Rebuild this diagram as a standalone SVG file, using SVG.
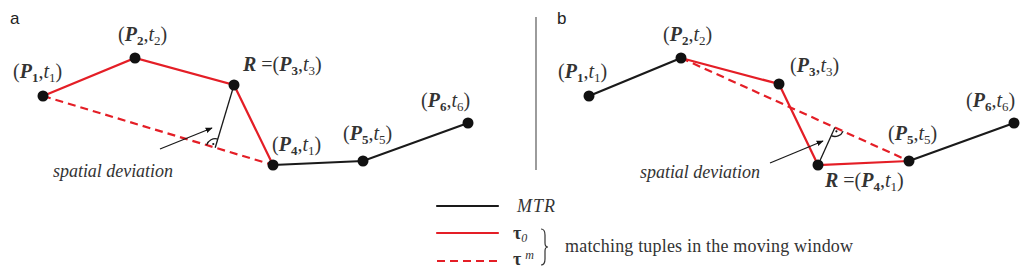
<svg xmlns="http://www.w3.org/2000/svg" width="1024" height="278" viewBox="0 0 1024 278">
<style>
.bg{fill:#fff}
.r{stroke:#e41e26;stroke-width:2.2;fill:none;stroke-linecap:round}
.rd{stroke:#e41e26;stroke-width:2.2;fill:none;stroke-dasharray:8,5}
.k{stroke:#1a1a1a;stroke-width:2.2;fill:none;stroke-linecap:round}
.thin{stroke:#1a1a1a;stroke-width:1.3;fill:none}
.dot{fill:#111}
.m{font-family:"Liberation Serif",serif;font-size:20px;fill:#333}
.bp{font-weight:bold;font-style:italic}
.sb{font-weight:bold;font-size:13px}
.it{font-style:italic}
.sub{font-size:13px}
.t{font-family:"Liberation Serif",serif;font-style:italic;font-size:18px;fill:#333}
.lab{font-family:"Liberation Sans",Arial,sans-serif;font-size:17px;fill:#222}
.lg{font-family:"Liberation Serif",serif;font-size:18px;fill:#333}
</style>
<defs>
<marker id="ah" viewBox="0 0 10 10" refX="9" refY="5" markerWidth="7" markerHeight="7" orient="auto" markerUnits="userSpaceOnUse">
<path d="M0,1 L10,5 L0,9 Z" fill="#111"/>
</marker>
</defs>
<rect class="bg" x="0" y="0" width="1024" height="278"/>
<text class="lab" x="10" y="24">a</text>
<text class="lab" x="557" y="24">b</text>
<line x1="536" y1="17" x2="536" y2="170" stroke="#666" stroke-width="1.3"/>

<g id="connectors">
<!-- panel a -->
<polyline class="r" points="43,96 135,58 234,85 273,165"/>
<line class="rd" x1="43" y1="96" x2="273" y2="165"/>
<polyline class="k" points="273,165 363,161 468,123"/>
<line class="thin" x1="234" y1="85" x2="215.2" y2="147.7"/>
<path class="thin" d="M206.6,145.1 A9,9 0 0 1 217.9,139.1"/>
<circle cx="213.3" cy="144" r="1.1" fill="#111"/>
<line class="thin" x1="160" y1="149" x2="212" y2="128" marker-end="url(#ah)"/>
<!-- panel b -->
<line class="k" x1="589" y1="96" x2="681" y2="58"/>
<polyline class="r" points="681,58 779,84 818,165 909,161"/>
<line class="rd" x1="681" y1="58" x2="909" y2="161"/>
<line class="k" x1="909" y1="161" x2="1014" y2="123"/>
<line class="thin" x1="818" y1="165" x2="834.9" y2="127.5"/>
<path class="thin" d="M843.1,131.2 A9,9 0 0 1 831.2,135.7"/>
<circle cx="836.4" cy="131.3" r="1.1" fill="#111"/>
<line class="thin" x1="770" y1="163" x2="823" y2="141" marker-end="url(#ah)"/>
</g>

<g id="a-p1"><circle class="dot" cx="43" cy="96" r="5.5"/>
<text class="m" x="13" y="78">(<tspan class="bp">P</tspan><tspan class="sb" dy="4">1</tspan><tspan dy="-4">,</tspan><tspan class="it">t</tspan><tspan class="sub" dy="4">1</tspan><tspan dy="-4">)</tspan></text></g>
<g id="a-p2"><circle class="dot" cx="135" cy="58" r="5.5"/>
<text class="m" x="118" y="41">(<tspan class="bp">P</tspan><tspan class="sb" dy="4">2</tspan><tspan dy="-4">,</tspan><tspan class="it">t</tspan><tspan class="sub" dy="4">2</tspan><tspan dy="-4">)</tspan></text></g>
<g id="a-p3"><circle class="dot" cx="234" cy="85" r="5.5"/>
<text class="m" x="243" y="71"><tspan class="bp">R</tspan> =(<tspan class="bp">P</tspan><tspan class="sb" dy="4">3</tspan><tspan dy="-4">,</tspan><tspan class="it">t</tspan><tspan class="sub" dy="4">3</tspan><tspan dy="-4">)</tspan></text></g>
<g id="a-p4"><circle class="dot" cx="273" cy="165" r="5.5"/>
<text class="m" x="272" y="151">(<tspan class="bp">P</tspan><tspan class="sb" dy="4">4</tspan><tspan dy="-4">,</tspan><tspan class="it">t</tspan><tspan class="sub" dy="4">1</tspan><tspan dy="-4">)</tspan></text></g>
<g id="a-p5"><circle class="dot" cx="363" cy="161" r="5.5"/>
<text class="m" x="343" y="140">(<tspan class="bp">P</tspan><tspan class="sb" dy="4">5</tspan><tspan dy="-4">,</tspan><tspan class="it">t</tspan><tspan class="sub" dy="4">5</tspan><tspan dy="-4">)</tspan></text></g>
<g id="a-p6"><circle class="dot" cx="468" cy="123" r="5.5"/>
<text class="m" x="421" y="107">(<tspan class="bp">P</tspan><tspan class="sb" dy="4">6</tspan><tspan dy="-4">,</tspan><tspan class="it">t</tspan><tspan class="sub" dy="4">6</tspan><tspan dy="-4">)</tspan></text></g>
<g id="a-sd"><text class="t" x="53" y="177" textLength="120">spatial deviation</text></g>

<g id="b-p1"><circle class="dot" cx="589" cy="96" r="5.5"/>
<text class="m" x="558" y="78">(<tspan class="bp">P</tspan><tspan class="sb" dy="4">1</tspan><tspan dy="-4">,</tspan><tspan class="it">t</tspan><tspan class="sub" dy="4">1</tspan><tspan dy="-4">)</tspan></text></g>
<g id="b-p2"><circle class="dot" cx="681" cy="58" r="5.5"/>
<text class="m" x="663" y="41">(<tspan class="bp">P</tspan><tspan class="sb" dy="4">2</tspan><tspan dy="-4">,</tspan><tspan class="it">t</tspan><tspan class="sub" dy="4">2</tspan><tspan dy="-4">)</tspan></text></g>
<g id="b-p3"><circle class="dot" cx="779" cy="84" r="5.5"/>
<text class="m" x="790" y="72">(<tspan class="bp">P</tspan><tspan class="sb" dy="4">3</tspan><tspan dy="-4">,</tspan><tspan class="it">t</tspan><tspan class="sub" dy="4">3</tspan><tspan dy="-4">)</tspan></text></g>
<g id="b-p4"><circle class="dot" cx="818" cy="165" r="5.5"/>
<text class="m" x="825" y="187"><tspan class="bp">R</tspan> =(<tspan class="bp">P</tspan><tspan class="sb" dy="4">4</tspan><tspan dy="-4">,</tspan><tspan class="it">t</tspan><tspan class="sub" dy="4">1</tspan><tspan dy="-4">)</tspan></text></g>
<g id="b-p5"><circle class="dot" cx="909" cy="161" r="5.5"/>
<text class="m" x="888" y="140">(<tspan class="bp">P</tspan><tspan class="sb" dy="4">5</tspan><tspan dy="-4">,</tspan><tspan class="it">t</tspan><tspan class="sub" dy="4">5</tspan><tspan dy="-4">)</tspan></text></g>
<g id="b-p6"><circle class="dot" cx="1014" cy="123" r="5.5"/>
<text class="m" x="966" y="107">(<tspan class="bp">P</tspan><tspan class="sb" dy="4">6</tspan><tspan dy="-4">,</tspan><tspan class="it">t</tspan><tspan class="sub" dy="4">6</tspan><tspan dy="-4">)</tspan></text></g>
<g id="b-sd"><text class="t" x="640" y="178" textLength="120">spatial deviation</text></g>

<g id="legend">
<line class="k" x1="437" y1="206" x2="498" y2="206"/>
<text class="t" x="517" y="212" textLength="38">MTR</text>
<line class="r" x1="437" y1="233" x2="498" y2="233"/>
<text class="lg" x="513" y="239"><tspan font-weight="bold">τ</tspan><tspan class="it" font-size="12" dy="3">0</tspan></text>
<line class="rd" x1="437" y1="261" x2="498" y2="261"/>
<text class="lg" x="513" y="265"><tspan font-weight="bold">τ</tspan><tspan class="it" font-size="12" dx="4" dy="-6">m</tspan></text>
<path d="M541,229 Q545,229 545,235 L545,243 Q545,247 548,247 Q545,247 545,251 L545,259 Q545,265 541,265" fill="none" stroke="#333" stroke-width="1.2"/>
<text class="lg" x="565" y="252" textLength="288">matching tuples in the moving window</text>
</g>
</svg>
